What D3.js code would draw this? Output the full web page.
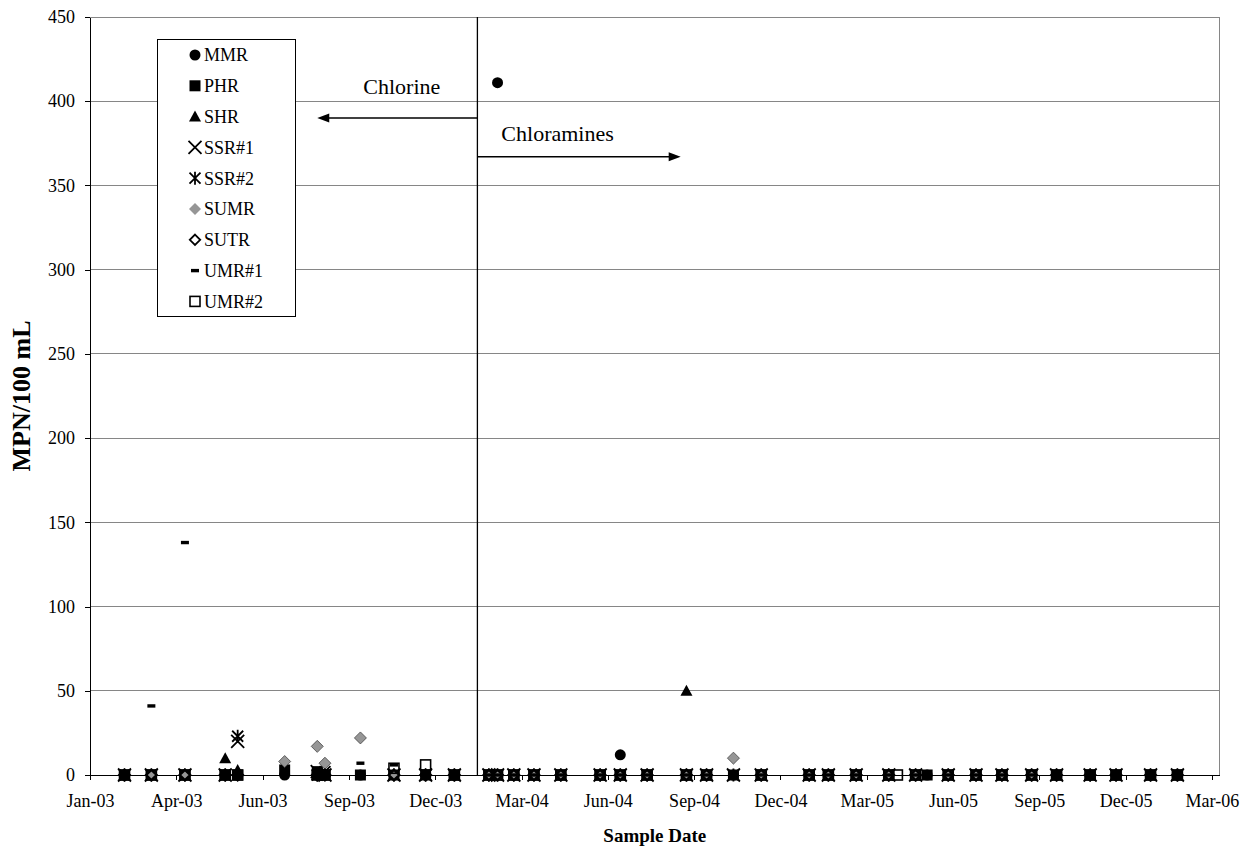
<!DOCTYPE html>
<html><head><meta charset="utf-8">
<script src="https://cdn.jsdelivr.net/npm/d3@7"></script>
<style>
body{margin:0;background:#fff}
svg{display:block}
text{font-family:"Liberation Serif","Times New Roman",serif;fill:#000}
</style>
</head><body>
<svg id="chart" width="1250" height="848"></svg>
<script>
// ---------------- data ----------------
const sampleDates = [
  "2003-02-06","2003-03-06","2003-04-10","2003-05-22","2003-06-04","2003-07-23","2003-08-26","2003-09-03","2003-10-10","2003-11-14","2003-12-17",
  "2004-01-16","2004-02-21","2004-03-01","2004-03-18","2004-04-08","2004-05-06","2004-06-16","2004-07-07","2004-08-04","2004-09-14","2004-10-05","2004-11-02","2004-12-01",
  "2005-01-20","2005-02-09","2005-03-10","2005-04-13","2005-04-22","2005-05-11","2005-05-23","2005-06-14","2005-07-13","2005-08-09","2005-09-09","2005-10-05","2005-11-09","2005-12-06",
  "2006-01-11","2006-02-08"
];
const seriesNames = ["MMR","PHR","SHR","SSR#1","SSR#2","SUMR","SUTR","UMR#1","UMR#2"];
const MMR  = [0,0,0,0,0,0,0,0,0,0,0, 0,0,411,0,0,0,0,12,0,0,0,0,0, 0,0,0,0,null,0,0,0,0,0,0,0,0,0, 0,0];
const PHR  = [0,0,0,0,0,3,2,0,0,0,0, 0,0,0,0,0,0,0,0,0,0,0,0,0, 0,0,0,0,null,0,0,0,0,0,0,0,0,0, 0,0];
const SHR  = [0,0,0,10,3,null,0,0,null,0,0, 0,0,0,0,0,0,0,0,0,50,0,null,0, 0,0,0,0,null,0,null,0,0,0,0,0,0,0, 0,0];
const SSR1 = [0,0,0,0,20,null,2,0,null,0,0, 0,0,0,0,0,0,0,0,0,0,0,0,0, 0,0,0,0,null,0,null,0,0,0,0,0,0,0, 0,0];
const SSR2 = [0,0,0,0,23,null,0,2,null,0,0, 0,0,0,0,0,0,0,0,0,0,0,0,0, 0,0,0,0,null,0,null,0,0,0,0,0,0,0, 0,0];
const SUMR = [null,0,0,null,null,8,17,7,22,0,null, null,0,0,0,0,0,0,0,0,0,0,10,0, 0,0,0,0,null,0,null,0,0,0,0,null,null,null, null,null];
const SUTR = [0,0,0,0,0,null,0,0,null,0,0, 0,0,0,0,0,0,0,0,0,0,0,null,0, 0,0,0,0,null,0,null,0,0,0,0,0,0,0, 0,0];
const UMR1 = [0,41,138,0,0,null,0,0,7,6,0, 0,0,0,0,0,0,0,0,0,0,0,null,0, 0,0,0,0,null,0,null,0,0,0,0,0,0,0, 0,0];
const UMR2 = [0,0,0,0,0,null,0,0,null,4,6, 0,0,0,0,0,0,0,0,0,0,0,null,0, 0,0,0,0,0,0,null,0,0,0,0,0,0,0, 0,0];
const seriesValues = [MMR,PHR,SHR,SSR1,SSR2,SUMR,SUTR,UMR1,UMR2];

const yTickValues = [0,50,100,150,200,250,300,350,400,450];
const xTickDates = ["2003-01-01","2003-04-01","2003-06-30","2003-09-28","2003-12-27","2004-03-26","2004-06-24",
                    "2004-09-22","2004-12-21","2005-03-21","2005-06-19","2005-09-17","2005-12-16","2006-03-16"];
const xDomain = ["2003-01-01","2006-03-24"];
const yDomain = [0,450];

const dividerDate = "2004-02-09";
const annotationLabels = ["Chlorine","Chloramines"];
const annotationLabelAnchors = [["2003-10-13",404.5],["2004-03-05",376.3]];
const arrowTips = [["2003-08-26",390],["2004-09-08",367]];

const yTitle = "MPN/100 mL";
const xTitle = "Sample Date";

// ---------------- drawing ----------------
const parse = d3.utcParse("%Y-%m-%d");
const svg = d3.select("#chart");
const L = 90, R = 1219.6, T = 17, B = 775;
const FONT = '"Liberation Serif","Times New Roman",serif';

const x = d3.scaleUtc().domain(xDomain.map(parse)).range([L, R]);
const y = d3.scaleLinear().domain(yDomain).range([B, T]);

// gridlines
svg.append("g").selectAll("line").data(yTickValues).join("line")
  .attr("x1", L).attr("x2", R).attr("y1", d => y(d)).attr("y2", d => y(d))
  .attr("stroke", "#868686").attr("stroke-width", 1).attr("shape-rendering","crispEdges");
// right border
svg.append("line").attr("x1", R).attr("x2", R).attr("y1", y(450)).attr("y2", y(0))
  .attr("stroke", "#868686").attr("shape-rendering","crispEdges");

// divider line
svg.append("line").attr("x1", x(parse(dividerDate))).attr("x2", x(parse(dividerDate)))
  .attr("y1", y(450)).attr("y2", y(0)).attr("stroke", "#000").attr("stroke-width", 1.3);

// arrows
arrowTips.forEach(([d, v]) => {
  const x0 = x(parse(dividerDate)), xt = x(parse(d)), yy = y(v);
  const dir = xt < x0 ? 1 : -1;
  svg.append("line").attr("x1", x0).attr("x2", xt + dir*8).attr("y1", yy).attr("y2", yy)
    .attr("stroke", "#000").attr("stroke-width", 1.5);
  svg.append("path").attr("d", `M${xt},${yy}L${xt + dir*12},${yy-4.5}L${xt + dir*12},${yy+4.5}Z`).attr("fill", "#000");
});
annotationLabels.forEach((t, i) => {
  const [d, v] = annotationLabelAnchors[i];
  svg.append("text").attr("x", x(parse(d))).attr("y", y(v)).attr("font-size", 22).text(t);
});

// axes
const xAxis = d3.axisBottom(x).tickValues(xTickDates.map(parse)).tickFormat(d3.utcFormat("%b-%y"))
  .tickSize(5).tickSizeOuter(0).tickPadding(14);
const gx = svg.append("g").attr("transform", `translate(0,${B})`).call(xAxis);
gx.select(".domain").attr("stroke","#000").attr("shape-rendering","crispEdges");
gx.selectAll(".tick line").attr("stroke","#000").attr("shape-rendering","crispEdges");
gx.selectAll("text").attr("font-size", 18).attr("font-family", FONT).attr("fill","#000");

const yAxis = d3.axisLeft(y).tickValues(yTickValues).tickSize(5).tickSizeOuter(0).tickPadding(10);
const gy = svg.append("g").attr("transform", `translate(${L},0)`).call(yAxis);
gy.select(".domain").attr("stroke","#000").attr("shape-rendering","crispEdges");
gy.selectAll(".tick line").attr("stroke","#000").attr("shape-rendering","crispEdges");
gy.selectAll("text").attr("font-size", 18).attr("font-family", FONT).attr("fill","#000");

// axis titles
svg.append("text").attr("transform", `translate(30,${(T+B)/2}) rotate(-90)`)
  .attr("text-anchor","middle").attr("font-size", 26).attr("font-weight","bold").text(yTitle);
svg.append("text").attr("x", (L+R)/2).attr("y", 842).attr("text-anchor","middle")
  .attr("font-size", 19).attr("font-weight","bold").text(xTitle);

// markers
const symbolOf = {"MMR":"circle","PHR":"square","SHR":"triangle","SSR#1":"cross","SSR#2":"asterisk",
                  "SUMR":"diamondGray","SUTR":"diamondOpen","UMR#1":"dash","UMR#2":"squareOpen"};
function marker(g, type, legend) {
  switch (type) {
    case "circle": g.append("circle").attr("r", 5.5).attr("fill","#000"); break;
    case "square": g.append("rect").attr("x",-5.5).attr("y",-5.5).attr("width",11).attr("height",11).attr("fill","#000"); break;
    case "triangle": g.append("path").attr("d","M0,-6L6,5L-6,5Z").attr("fill","#000"); break;
    case "cross": g.append("path").attr("d","M-6.5,-6.5L6.5,6.5M-6.5,6.5L6.5,-6.5").attr("stroke","#000").attr("stroke-width",1.8).attr("fill","none"); break;
    case "asterisk": g.append("path").attr("d","M-5.5,-5.5L5.5,5.5M-5.5,5.5L5.5,-5.5M0,-6.5L0,6.5").attr("stroke","#000").attr("stroke-width",1.8).attr("fill","none"); break;
    case "diamondGray": g.append("path").attr("d","M0,-6L6,0L0,6L-6,0Z").attr("fill","#969696").attr("stroke", legend ? "none" : "#444").attr("stroke-width",0.8); break;
    case "diamondOpen": g.append("path").attr("d","M0,-5.2L5.2,0L0,5.2L-5.2,0Z").attr("fill", legend ? "#fff" : "none").attr("stroke","#000").attr("stroke-width", legend ? 1.8 : 2.4); break;
    case "dash": g.append("rect").attr("x",-4).attr("y",-1.7).attr("width",8).attr("height",3.4).attr("fill","#000"); break;
    case "squareOpen": g.append("rect").attr("x",-5).attr("y",-5).attr("width",10).attr("height",10).attr("fill", legend ? "#fff" : "none").attr("stroke","#000").attr("stroke-width",1.6); break;
  }
}
const gData = svg.append("g");
seriesNames.forEach((name, si) => {
  const pts = sampleDates.map((d, i) => ({date: parse(d), v: seriesValues[si][i]})).filter(p => p.v !== null);
  gData.append("g").attr("class","series").selectAll("g").data(pts).join("g")
    .attr("transform", p => `translate(${x(p.date)},${y(p.v)})`)
    .each(function() { marker(d3.select(this), symbolOf[name], false); });
});

// legend
const lg = svg.append("g");
lg.append("rect").attr("x",157.5).attr("y",39.5).attr("width",138).attr("height",277)
  .attr("fill","#fff").attr("stroke","#000").attr("stroke-width",1);
seriesNames.forEach((name, i) => {
  const cy = 55 + i*30.8;
  const g = lg.append("g").attr("transform", `translate(195,${cy})`);
  marker(g, symbolOf[name], true);
  lg.append("text").attr("x", 204).attr("y", cy).attr("dy","0.35em").attr("font-size",18).text(name);
});
</script>
</body></html>
